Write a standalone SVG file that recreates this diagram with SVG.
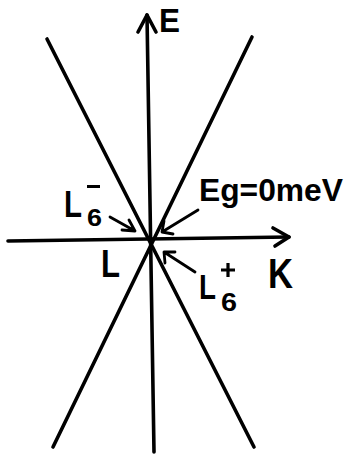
<svg xmlns="http://www.w3.org/2000/svg" width="349" height="455" viewBox="0 0 349 455">
<style>
.ln{stroke:#000;stroke-width:3.6;fill:none;stroke-linecap:round;stroke-linejoin:round}
.ar{stroke:#000;stroke-width:2.8;fill:none;stroke-linecap:round;stroke-linejoin:round}
.t{font-family:"Liberation Sans",Arial,sans-serif;font-weight:bold;fill:#000}
</style>
<rect width="349" height="455" fill="#fff"/>
<g id="connectors">
<path class="ln" d="M147,15 L154,452"/>
<path class="ln" d="M138,32 L147,15 L156,32"/>
<path class="ln" d="M8,241 L289,237"/>
<path class="ln" d="M273,228 L289,237 L275,246"/>
<path class="ln" d="M47,39 L254,447"/>
<path class="ln" d="M252,37 L53,447"/>
<path class="ar" d="M110,217 L135,231 M122,230 L135,231 L129,220"/>
<path class="ar" d="M198,210 L162,232 M164,221 L162,232 L173,234"/>
<path class="ar" d="M195,272 L164,252 M165,263 L164,252 L175,252"/>
</g>
<g id="label-E"><text class="t" x="159" y="32" font-size="34" textLength="21" lengthAdjust="spacingAndGlyphs">E</text></g>
<g id="label-Eg"><text class="t" x="199" y="201" font-size="32" textLength="144" lengthAdjust="spacingAndGlyphs">Eg=0meV</text></g>
<g id="label-L6minus"><text class="t" x="64" y="217" font-size="36" textLength="18" lengthAdjust="spacingAndGlyphs">L</text><text class="t" x="87" y="226" font-size="24" textLength="15" lengthAdjust="spacingAndGlyphs">6</text><rect x="87" y="185" width="13" height="3"/></g>
<g id="label-L"><text class="t" x="101" y="277" font-size="39" textLength="19" lengthAdjust="spacingAndGlyphs">L</text></g>
<g id="label-K"><text class="t" x="268" y="288" font-size="42" textLength="25" lengthAdjust="spacingAndGlyphs">K</text></g>
<g id="label-L6plus"><text class="t" x="199" y="299" font-size="35" textLength="17" lengthAdjust="spacingAndGlyphs">L</text><text class="t" x="221" y="311" font-size="25" textLength="16" lengthAdjust="spacingAndGlyphs">6</text><path d="M221,270 H235 M228,263 V277" stroke="#000" stroke-width="3.2"/></g>
</svg>
